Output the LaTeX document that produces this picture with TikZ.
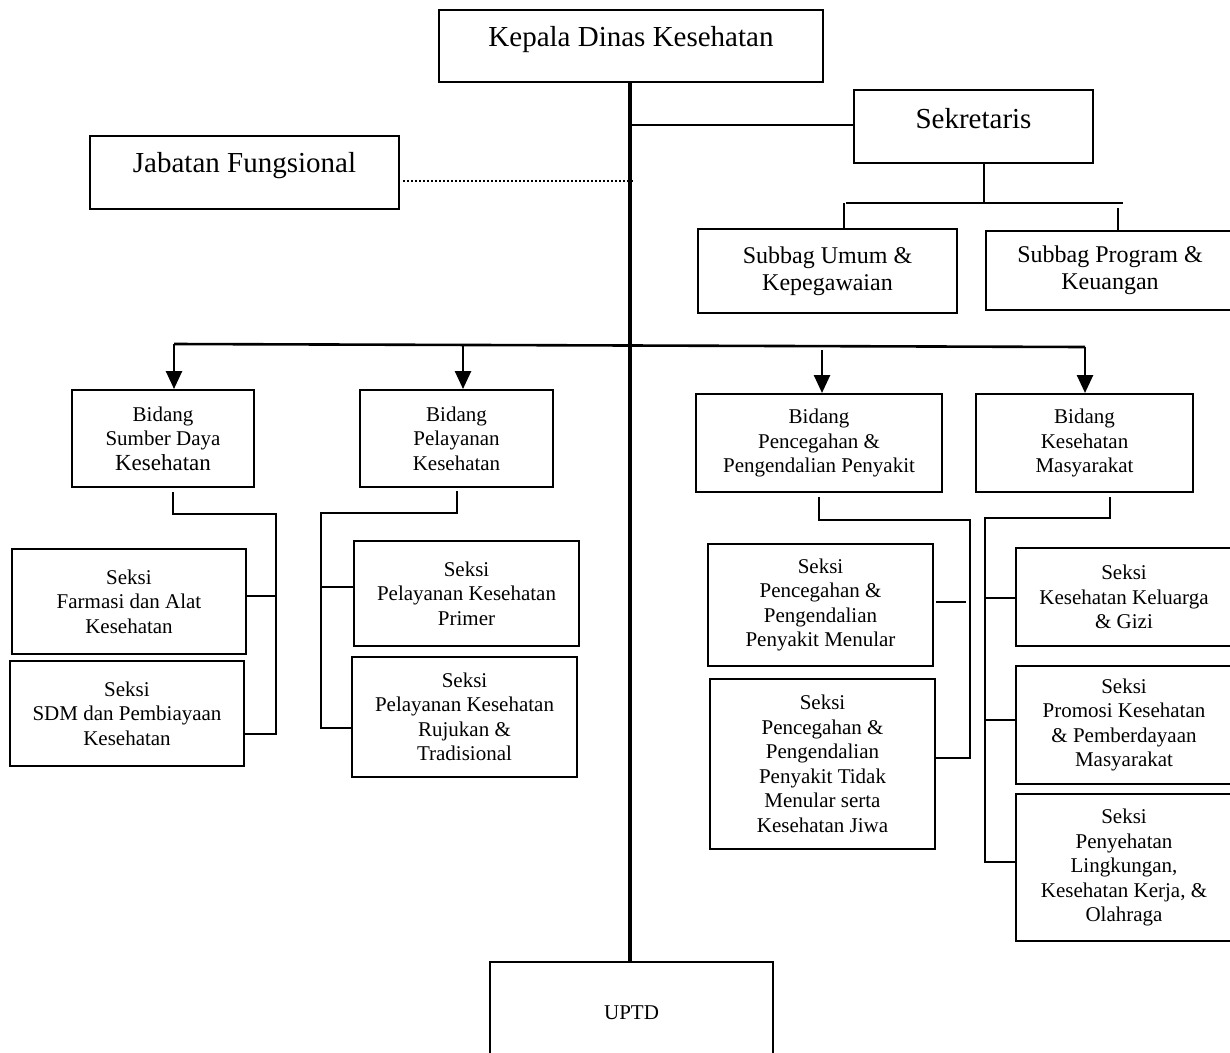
\documentclass[tikz,border=0pt]{standalone}
\usepackage{fontspec}
\setmainfont{Liberation Serif}
\usetikzlibrary{arrows.meta,calc}
\begin{document}
\begin{tikzpicture}[x=1pt,y=-1pt,
  box/.style={draw, line width=2pt, inner sep=0pt, rectangle, align=center},
  conn/.style={line width=2pt},
  thick bus/.style={line width=4pt},
  arr/.style={line width=2.6pt, -{Triangle[width=16pt,length=18pt]}},
  big/.style={font=\fontsize{29}{33}\selectfont},
  mid/.style={font=\fontsize{24}{27}\selectfont, align=center},
  sm/.style={font=\fontsize{21}{24.5}\selectfont, align=center},
]
\useasboundingbox (0,0) rectangle (1230,1052);

% ---- top level
\node[box, minimum width=384pt, minimum height=72pt,
  label={[big, yshift=6pt]center:Kepala Dinas Kesehatan}] (kepala) at (631,46) {};
\node[box, minimum width=239pt, minimum height=73pt,
  label={[big, yshift=8pt]center:Sekretaris}] (sekretaris) at (973.5,126.5) {};
\node[box, minimum width=309pt, minimum height=73pt,
  label={[big, yshift=7pt]center:Jabatan Fungsional}] (jabatan) at (244.5,172.5) {};
\node[box, mid, minimum width=259pt, minimum height=84pt] (umum) at (827.5,271) {Subbag Umum \&\\Kepegawaian};
\node[box, mid, minimum width=248pt, minimum height=79pt] (program) at (1110,270.5) {Subbag Program \&\\Keuangan};

% ---- bidang
\node[box, sm, minimum width=182pt, minimum height=97pt] (sdk) at (163,438.5)
  {Bidang\\Sumber Daya\\{\fontsize{23}{24.5}\selectfont Kesehatan}};
\node[box, sm, minimum width=193pt, minimum height=97pt] (bpk) at (456.5,438.5)
  {Bidang\\Pelayanan\\Kesehatan};
\node[box, sm, minimum width=246pt, minimum height=98pt] (bppp) at (819,443)
  {Bidang\\Pencegahan \&\\Pengendalian Penyakit};
\node[box, sm, minimum width=217pt, minimum height=98pt] (bkm) at (1084.5,443)
  {Bidang\\Kesehatan\\Masyarakat};

% ---- seksi
\node[box, sm, minimum width=234pt, minimum height=105pt] (farmasi) at (129,601.5)
  {Seksi\\Farmasi dan Alat\\Kesehatan};
\node[box, sm, minimum width=234pt, minimum height=105pt] (sdm) at (127,713.5)
  {Seksi\\SDM dan Pembiayaan\\Kesehatan};
\node[box, sm, minimum width=225pt, minimum height=105pt] (primer) at (466.5,593.5)
  {Seksi\\Pelayanan Kesehatan\\Primer};
\node[box, sm, minimum width=225pt, minimum height=120pt] (rujukan) at (464.5,717)
  {Seksi\\Pelayanan Kesehatan\\Rujukan \&\\Tradisional};
\node[box, sm, minimum width=225pt, minimum height=122pt] (menular) at (820.5,605)
  {Seksi\\Pencegahan \&\\Pengendalian\\Penyakit Menular};
\node[box, sm, minimum width=225pt, minimum height=170pt] (ptm) at (822.5,764)
  {Seksi\\Pencegahan \&\\Pengendalian\\Penyakit Tidak\\Menular serta\\Kesehatan Jiwa};
\node[box, sm, minimum width=216pt, minimum height=98pt] (kkg) at (1124,597)
  {Seksi\\Kesehatan Keluarga\\\& Gizi};
\node[box, sm, minimum width=216pt, minimum height=118pt] (promosi) at (1124,725)
  {Seksi\\Promosi Kesehatan\\\& Pemberdayaan\\Masyarakat};
\node[box, sm, minimum width=216pt, minimum height=147pt] (penyehatan) at (1124,867.5)
  {Seksi\\Penyehatan\\Lingkungan,\\Kesehatan Kerja, \&\\Olahraga};

% ---- UPTD (bottom edge falls outside the picture)
\node[sm, inner sep=0pt, minimum width=283pt, minimum height=102pt] (uptd) at (631.5,1013) {UPTD};
\draw[conn] (uptd.south west) -- (uptd.north west) -- (uptd.north east) -- (uptd.south east);

% ---- main spine
\draw[thick bus] (kepala.south -| 630,0) -- (uptd.north -| 630,0);
\draw[conn] (630,125) -- (sekretaris.west |- 0,125);
\draw[line width=2pt, dash pattern=on 2pt off 2pt] ($(jabatan.east)+(3,8.5)$) -- (634,181);

% ---- sekretaris subtree
\coordinate (sk0) at (984,203);
\coordinate (sk1) at (846,203);
\coordinate (sk2) at (1123,203);
\draw[conn] (sekretaris.south -| sk0) -- (sk0);
\draw[conn] (sk1) -- (sk2);
\draw[conn] (844,203) -- (umum.north -| 844,0);
\draw[conn] (1118,208) -- (program.north -| 1118,0);

% ---- bidang bus and arrows
\coordinate (busL) at (174,344);
\coordinate (busR) at (1085,347);
\coordinate (a2) at (463,344.5);
\coordinate (a3) at (822,350);
\draw[line width=2.6pt] (busL) -- (busR);
\draw[arr] (busL) -- (busL |- sdk.north);
\draw[arr] (a2) -- (a2 |- bpk.north);
\draw[arr] (a3) -- (a3 |- bppp.north);
\draw[arr] (busR) -- (busR |- bkm.north);

% ---- bidang SDK subtree
\draw[conn] (173,492) |- (276,514) -- (276,734) -- (sdm.east |- 0,734);
\draw[conn] (farmasi.east |- 0,596) -- (276,596);

% ---- bidang pelayanan subtree
\draw[conn] (457,491) |- (321,513) -- (321,728) -- (rujukan.west |- 0,728);
\draw[conn] (321,587) -- (primer.west |- 0,587);

% ---- bidang P2P subtree
\draw[conn] (819,497) |- (970,520) -- (970,758) -- (ptm.east |- 0,758);
\draw[conn] (menular.east |- 0,602) ++(2,0) -- (966,602);

% ---- bidang kesmas subtree
\draw[conn] (1110,497) |- (985,518) -- (985,862) -- (penyehatan.west |- 0,862);
\draw[conn] (985,598) -- (kkg.west |- 0,598);
\draw[conn] (985,720) -- (promosi.west |- 0,720);
\end{tikzpicture}
\end{document}
